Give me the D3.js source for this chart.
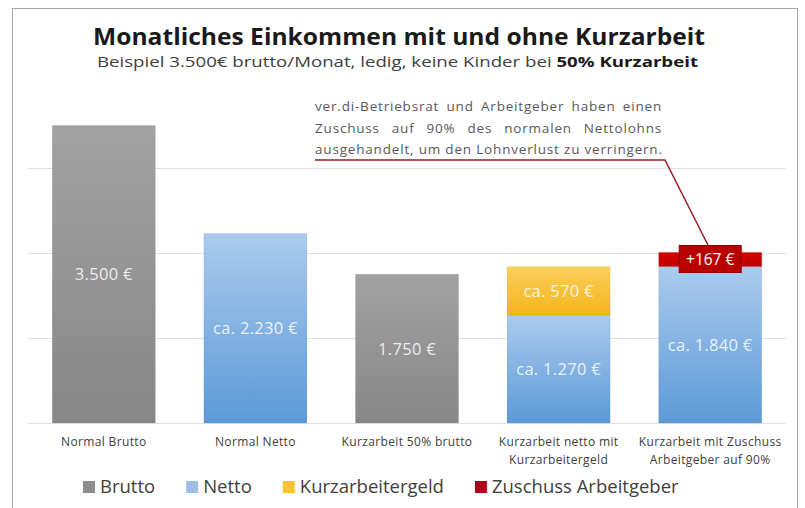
<!DOCTYPE html>
<html>
<head>
<meta charset="utf-8">
<script src="https://cdn.jsdelivr.net/npm/d3@7"></script>
<style>
  body { margin: 0; background: #fff; }
  text { font-family: "Open Sans", sans-serif; }
</style>
</head>
<body>
<div id="chart"></div>
<script>
// Data
const categories = ["Normal Brutto", "Normal Netto", "Kurzarbeit 50% brutto",
    "Kurzarbeit netto mit Kurzarbeitergeld", "Kurzarbeit mit Zuschuss Arbeitgeber auf 90%"];
const categoryLines = [["Normal Brutto"], ["Normal Netto"], ["Kurzarbeit 50% brutto"],
    ["Kurzarbeit netto mit", "Kurzarbeitergeld"], ["Kurzarbeit mit Zuschuss", "Arbeitgeber auf 90%"]];
const seriesNames = ["Brutto", "Netto", "Kurzarbeitergeld", "Zuschuss Arbeitgeber"];
const brutto = [3500, 0, 1750, 0, 0];
const netto = [0, 2230, 0, 1270, 1840];
const kurzarbeitergeld = [0, 0, 0, 570, 0];
const zuschuss = [0, 0, 0, 0, 167];
const bruttoLabels = ["3.500 €", "", "1.750 €", "", ""];
const nettoLabels = ["", "ca. 2.230 €", "", "ca. 1.270 €", "ca. 1.840 €"];
const kugLabels = ["", "", "", "ca. 570 €", ""];
const zuschussLabels = ["", "", "", "", "+167 €"];
const yTicks = [0, 1000, 2000, 3000];

const title = "Monatliches Einkommen mit und ohne Kurzarbeit";
const subtitle = "Beispiel 3.500€ brutto/Monat, ledig, keine Kinder bei ";
const subtitleBold = "50% Kurzarbeit";
const noteLines = ["ver.di-Betriebsrat und Arbeitgeber haben einen",
    "Zuschuss auf 90% des normalen Nettolohns",
    "ausgehandelt, um den Lohnverlust zu verringern."];

const width = 805, height = 508;

const rows = categories.map((c, i) => ({
    category: c,
    Brutto: brutto[i], Netto: netto[i],
    Kurzarbeitergeld: kurzarbeitergeld[i], "Zuschuss Arbeitgeber": zuschuss[i]
}));
const labelsBySeries = {
    "Brutto": bruttoLabels, "Netto": nettoLabels,
    "Kurzarbeitergeld": kugLabels, "Zuschuss Arbeitgeber": zuschussLabels
};

const colors = {
    "Brutto": ["#a2a2a2", "#878787"],
    "Netto": ["#abcaee", "#5c9ad6"],
    "Kurzarbeitergeld": ["#fbd05a", "#f4b41c"],
    "Zuschuss Arbeitgeber": ["#d40000", "#c00000"]
};
const legendColors = {
    "Brutto": "#8e8e8e", "Netto": "#9dbfe6",
    "Kurzarbeitergeld": "#fbc236", "Zuschuss Arbeitgeber": "#b00018"
};

const svg = d3.select("#chart").append("svg")
    .attr("width", width).attr("height", height);

// gradients
const defs = svg.append("defs");
seriesNames.forEach((s, i) => {
    const g = defs.append("linearGradient").attr("id", "grad" + i)
        .attr("x1", 0).attr("y1", 0).attr("x2", 0).attr("y2", 1);
    g.append("stop").attr("offset", "0%").attr("stop-color", colors[s][0]);
    g.append("stop").attr("offset", "100%").attr("stop-color", colors[s][1]);
});

// frame
svg.append("rect")
    .attr("x", 12.5).attr("y", 8.5).attr("width", 785).attr("height", 520)
    .attr("fill", "#fff").attr("stroke", "#a6a6a6");

// scales
const x = d3.scaleBand().domain(categories).range([28, 786])
    .paddingInner(0.32).paddingOuter(0.16);
const y = d3.scaleLinear().domain([0, 4000]).range([423, 83]);

// gridlines
svg.append("g").selectAll("line").data(yTicks).join("line")
    .attr("x1", 28).attr("x2", 786)
    .attr("y1", d => Math.round(y(d)) + 0.5).attr("y2", d => Math.round(y(d)) + 0.5)
    .attr("stroke", "#e0e0e0");

// title (wide, stretched lettering like the original)
svg.append("text").attr("x", 93).attr("y", 45)
    .attr("font-size", 23).attr("font-weight", 700).attr("fill", "#1a1a1a")
    .attr("textLength", 612).attr("lengthAdjust", "spacingAndGlyphs")
    .text(title);
const sub = svg.append("text").attr("x", 97).attr("y", 67)
    .attr("font-size", 15).attr("fill", "#404040")
    .attr("textLength", 601).attr("lengthAdjust", "spacingAndGlyphs");
sub.append("tspan").text(subtitle);
sub.append("tspan").attr("font-weight", 700).attr("fill", "#1a1a1a").text(subtitleBold);

// stacked bars
const stack = d3.stack().keys(seriesNames)(rows);
const layers = svg.append("g").selectAll("g").data(stack).join("g")
    .attr("fill", (d, i) => `url(#grad${i})`);
layers.selectAll("rect").data(d => d.filter(p => p[1] - p[0] > 0)).join("rect")
    .attr("x", d => x(d.data.category))
    .attr("y", d => y(d[1]))
    .attr("width", x.bandwidth())
    .attr("height", d => y(d[0]) - y(d[1]))
    .attr("stroke", "rgba(0,0,0,0.06)");

// value labels
stack.forEach(layer => {
    const labs = labelsBySeries[layer.key];
    layer.forEach((p, i) => {
        if (!labs[i]) return;
        const cx = x(p.data.category) + x.bandwidth() / 2;
        const cy = (y(p[0]) + y(p[1])) / 2;
        if (layer.key === "Zuschuss Arbeitgeber") {
            svg.append("rect")
                .attr("x", cx - 31).attr("y", cy - 14).attr("width", 62).attr("height", 27)
                .attr("fill", "#b80000").attr("stroke", "#8a0000");
            svg.append("text").attr("x", cx).attr("y", cy + 5.5)
                .attr("text-anchor", "middle").attr("font-size", 15.5)
                .attr("fill", "#fff").text(labs[i]);
        } else {
            svg.append("text").attr("x", cx).attr("y", cy + 6)
                .attr("text-anchor", "middle").attr("font-size", 16.5)
                .attr("letter-spacing", 0.3)
                .attr("fill", "#fff").attr("fill-opacity", 0.85)
                .text(labs[i]);
        }
    });
});

// category labels
svg.append("g").selectAll("text").data(categories).join("text")
    .attr("x", d => x(d) + x.bandwidth() / 2)
    .attr("y", 446)
    .attr("text-anchor", "middle").attr("font-size", 12).attr("letter-spacing", 0.35)
    .attr("fill", "#404040")
    .each(function (d, i) {
        d3.select(this).selectAll("tspan").data(categoryLines[i]).join("tspan")
            .attr("x", x(d) + x.bandwidth() / 2)
            .attr("dy", (t, j) => j === 0 ? 0 : 18)
            .text(t => t);
    });

// annotation, justified
const noteLeft = 315, noteRight = 662;
const noteTexts = noteLines.map((line, i) => svg.append("text")
    .attr("x", noteLeft).attr("y", 111 + i * 21.5)
    .attr("font-size", 13.5).attr("fill", "#595959").text(line));
// letter spacing chosen so the last (unjustified) line fills the width
const lastLen = noteTexts[2].node().getComputedTextLength();
const ls = (noteRight - noteLeft - lastLen) / (noteLines[2].length - 1);
noteTexts.forEach((t, i) => {
    t.attr("letter-spacing", ls);
    const w = t.node().getComputedTextLength();
    const spaces = noteLines[i].split(" ").length - 1;
    const extra = noteRight - noteLeft - w;
    if (spaces > 0 && extra > 0) t.attr("word-spacing", extra / spaces);
});
const last = stack[3][4];
const boxX = x(last.data.category) + x.bandwidth() / 2;
const boxTop = (y(last[0]) + y(last[1])) / 2 - 14;
svg.append("polyline")
    .attr("points", [[noteLeft, 160], [665, 160], [boxX - 2, boxTop]].map(p => p.join(",")).join(" "))
    .attr("fill", "none").attr("stroke", "#9c1c24").attr("stroke-width", 1.5);

// legend
const legend = svg.append("g");
let lx = 83;
seriesNames.forEach(s => {
    legend.append("rect").attr("x", lx).attr("y", 481).attr("width", 12).attr("height", 12)
        .attr("fill", legendColors[s]);
    const t = legend.append("text").attr("x", lx + 17).attr("y", 493)
        .attr("font-size", 18.5).attr("fill", "#404040").text(s);
    lx += 17 + t.node().getComputedTextLength() + 31;
});
</script>
</body>
</html>
